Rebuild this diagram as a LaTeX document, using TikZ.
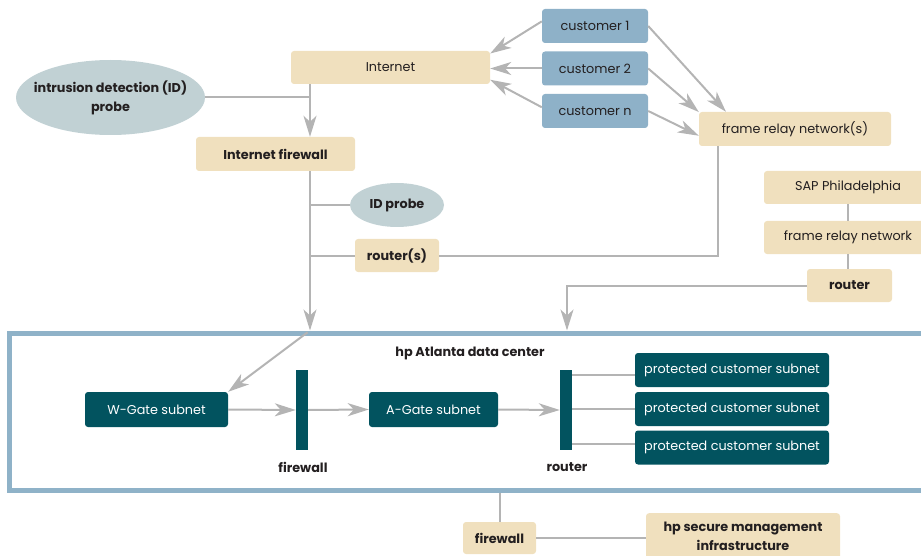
\documentclass[tikz,border=0pt]{standalone}
\usepackage{fontspec}
\setmainfont{Poppins}
\usetikzlibrary{arrows.meta,shapes.geometric}

\definecolor{cTan}{HTML}{F0E0BE}
\definecolor{cCust}{HTML}{8EB1C8}
\definecolor{cProbe}{HTML}{C1D1D4}
\definecolor{cTeal}{HTML}{02535F}
\definecolor{cLine}{HTML}{B4B4B4}
\definecolor{cFrame}{HTML}{8FB2C8}
\definecolor{cInk}{HTML}{231F20}

\tikzset{
  txt/.style={font=\fontsize{12.8}{19}\selectfont, text=cInk, align=center},
  bold/.style={txt, font=\fontsize{12.8}{19}\selectfont\bfseries},
  box/.style={rounded corners=3pt, inner sep=0pt, minimum height=33},
  lan/.style={box, fill=cTan},
  cust/.style={box, fill=cCust},
  subnet/.style={box, fill=cTeal, minimum height=35, text=white},
  probe/.style={ellipse, fill=cProbe, inner sep=0pt},
  wall/.style={fill=cTeal, inner sep=0pt, minimum width=12, minimum height=80},
  link/.style={draw=cLine, line width=2pt},
  flow/.style={link, -{Stealth[length=21pt,width=13pt,inset=6pt]}}
}

\begin{document}
\begin{tikzpicture}[x=1pt,y=1pt,yscale=-1]
\useasboundingbox (0,0) rectangle (921,556);

% Shapes: outside
\node [lan, txt, minimum width=199] (inet) at (390.5,67.5) {Internet};
\node [probe, minimum width=189, minimum height=75] (idd) at (110.5,97.5) {};
\node [bold] (iddt) at (idd) {intrusion detection (ID)\\probe};
\node [lan, bold, minimum width=159, minimum height=34] (ifw) at (275.5,154) {Internet firewall};
\node [cust, txt, minimum width=106, minimum height=34] (c1) at (595,26) {customer 1};
\node [cust, txt, minimum width=106, minimum height=34] (c2) at (595,68.5) {customer 2};
\node [cust, txt, minimum width=106, minimum height=34] (cn) at (595,111) {customer n};
\node [lan, txt, minimum width=192, minimum height=34] (frn) at (795,129) {frame relay network(s)};
\node [probe, minimum width=94, minimum height=44] (idp) at (397,205) {};
\node [bold] (idpt) at (idp) {ID probe};
\node [lan, bold, minimum width=84] (rts) at (397,255.5) {router(s)};
\node [lan, txt, minimum width=168] (sap) at (848,187.5) {SAP Philadelphia};
\node [lan, txt, minimum width=168] (frl) at (848,237.5) {frame relay network};
\node [lan, bold, minimum width=85] (rtr) at (849.5,285.5) {router};

% Shapes: data center
\node [draw=cFrame, line width=5pt, minimum width=931, minimum height=157, inner sep=0pt] (dc) at (474.5,411.5) {};
\node [bold] (dct) at (470,353) {hp Atlanta data center};
\node [subnet, txt, text=white, minimum width=143] (wg) at (156.5,409.5) {W-Gate subnet};
\node [wall] (fwb) at (302,410) {};
\node [bold] (fwl) at (303,467) {firewall};
\node [subnet, txt, text=white, minimum width=129] (ag) at (433.5,409.5) {A-Gate subnet};
\node [wall] (rtb) at (566,410) {};
\node [bold] (rtl) at (567,467) {router};
\node [subnet, txt, text=white, minimum width=194, minimum height=34] (p1) at (732,370) {protected customer subnet};
\node [subnet, txt, text=white, minimum width=194, minimum height=34] (p2) at (732,409) {protected customer subnet};
\node [subnet, txt, text=white, minimum width=194, minimum height=34] (p3) at (732,447.5) {protected customer subnet};

% Shapes: management
\node [lan, bold, minimum width=73, minimum height=32] (bfw) at (499.5,538) {firewall};
\node [lan, bold, minimum width=194, anchor=north, inner ysep=9pt] (hpm) at (743,513) {hp secure management\\infrastructure};

% Connectors
\coordinate (sp) at (310,0);
\coordinate (frdrop) at (718,0);
\coordinate (rdrop) at (567,0);
\draw [flow] (inet.south -| sp) -- (ifw.north -| sp);
\draw [link] (idd.east) -- (idd.east -| sp);
\draw [flow] (ifw.south -| sp) -- (dc.north -| sp);
\draw [link] (idp.west -| sp) -- (idp.west);
\draw [link] (rts.west -| sp) -- (rts.west);
\draw [link] (frn.south -| frdrop) |- (rts.east);
\draw [flow] (rtr.west) -| (rdrop |- dc.north);
\draw [link] (sap) -- (frl);
\draw [link] (frl.south) -- (frl.south |- rtr.north);

\draw [flow] (c1.175) -- (inet.8);
\draw [flow] (c2.west) -- (c2.west -| inet.east);
\draw [flow] (cn.176) -- (inet.-7);
\draw [flow] (c1.east) -- (frn.166.7);
\draw [flow] (c2.east) -- (frn.170);
\draw [flow] (cn.east) -- (frn.184);

\draw [flow, shorten <=3pt] (dc.north -| sp) -- (wg.north east);
\draw [flow] (wg.east) -- (fwb.west);
\draw [flow] (fwb.east) -- (ag.west);
\draw [flow] (ag.east) -- (rtb.west);
\draw [link] (p1.183.5 -| rtb.east) -- (p1.183.5);
\draw [link] (p2.west -| rtb.east) -- (p2.west);
\draw [link] (p3.178 -| rtb.east) -- (p3.178);

\draw [link] (dc.south -| bfw) -- (bfw.north);
\draw [link] (bfw.east) -- (bfw.east -| hpm.west);

\end{tikzpicture}
\end{document}
